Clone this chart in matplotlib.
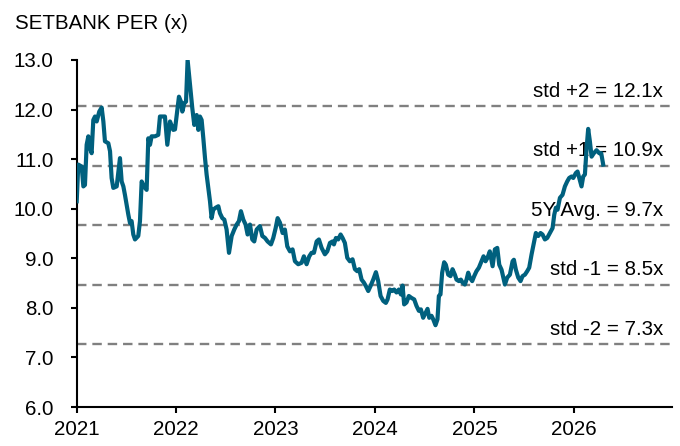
import matplotlib
matplotlib.use("Agg")
import matplotlib.pyplot as plt

plt.rcParams["font.family"] = ["Liberation Sans", "DejaVu Sans"]
plt.rcParams["font.size"] = 14.8

# SETBANK forward PER (decimal year, multiple)
years = [
    2021.002, 2021.018, 2021.052, 2021.069, 2021.085, 2021.102, 2021.119, 2021.136,
    2021.152, 2021.169, 2021.186, 2021.203, 2021.229, 2021.253, 2021.270, 2021.286,
    2021.320, 2021.337, 2021.353, 2021.370, 2021.404, 2021.437, 2021.454, 2021.471,
    2021.487, 2021.521, 2021.538, 2021.554, 2021.571, 2021.588, 2021.621, 2021.638,
    2021.655, 2021.678, 2021.705, 2021.722, 2021.739, 2021.755, 2021.789, 2021.822,
    2021.839, 2021.889, 2021.913, 2021.940, 2021.973, 2021.990,
    2022.030, 2022.050, 2022.064, 2022.084, 2022.101, 2022.117, 2022.141, 2022.164,
    2022.184, 2022.208, 2022.225, 2022.241, 2022.258, 2022.275, 2022.292, 2022.308,
    2022.325, 2022.342, 2022.358, 2022.375, 2022.399, 2022.426, 2022.442, 2022.466,
    2022.486, 2022.509, 2022.533, 2022.560, 2022.586, 2022.610, 2022.633, 2022.653,
    2022.677, 2022.700, 2022.720, 2022.744, 2022.767, 2022.787, 2022.811, 2022.844,
    2022.868, 2022.895, 2022.921, 2022.955, 2022.978, 2023.002, 2023.022,
    2023.045, 2023.072, 2023.095, 2023.119, 2023.146, 2023.172, 2023.196, 2023.229,
    2023.263, 2023.286, 2023.313, 2023.340, 2023.363, 2023.387, 2023.414, 2023.437,
    2023.464, 2023.497, 2023.521, 2023.548, 2023.574, 2023.588, 2023.608, 2023.631,
    2023.655, 2023.675, 2023.698, 2023.722, 2023.748, 2023.775, 2023.799, 2023.822,
    2023.842, 2023.866, 2023.889, 2023.909, 2023.933, 2023.956, 2023.983,
    2024.010, 2024.033, 2024.057, 2024.084, 2024.110, 2024.127, 2024.150, 2024.174,
    2024.194, 2024.217, 2024.241, 2024.261, 2024.278, 2024.294, 2024.318, 2024.341,
    2024.368, 2024.395, 2024.418, 2024.442, 2024.462, 2024.485, 2024.509, 2024.529,
    2024.546, 2024.569, 2024.586, 2024.609, 2024.629, 2024.643, 2024.659, 2024.676,
    2024.696, 2024.713, 2024.737, 2024.760, 2024.780, 2024.804, 2024.820, 2024.844,
    2024.864, 2024.881, 2024.904, 2024.921, 2024.938, 2024.954, 2024.978, 2024.998,
    2025.021, 2025.045, 2025.072, 2025.092, 2025.112, 2025.132, 2025.155, 2025.183,
    2025.206, 2025.230, 2025.250, 2025.273, 2025.307, 2025.330, 2025.357, 2025.384,
    2025.397, 2025.417, 2025.441, 2025.464, 2025.484, 2025.508, 2025.531, 2025.551,
    2025.575, 2025.598, 2025.618, 2025.642, 2025.665, 2025.685, 2025.709, 2025.732,
    2025.759, 2025.786, 2025.803, 2025.819, 2025.836, 2025.860, 2025.886, 2025.910,
    2025.933, 2025.953, 2025.977, 2025.994,
    2026.020, 2026.037, 2026.054, 2026.077, 2026.094, 2026.111, 2026.128, 2026.144,
    2026.161, 2026.178, 2026.201, 2026.228, 2026.255, 2026.275, 2026.295,
]
per = [
    10.15, 10.89, 10.85, 10.45, 10.48, 11.29, 11.46, 11.22,
    11.12, 11.79, 11.86, 11.76, 11.96, 12.04, 11.76, 11.36,
    11.32, 11.16, 10.62, 10.42, 10.45, 11.02, 10.55, 10.45,
    10.28, 9.88, 9.71, 9.75, 9.48, 9.38, 9.45, 9.75,
    10.55, 10.45, 10.38, 11.42, 11.29, 11.46, 11.46, 11.49,
    11.86, 11.86, 11.29, 11.76, 11.59, 11.60,
    12.26, 12.16, 11.96, 12.13, 12.16, 13.00, 12.50, 12.03,
    11.69, 11.89, 11.59, 11.86, 11.79, 11.42, 11.02, 10.69,
    10.42, 10.15, 9.81, 9.98, 10.02, 10.05, 9.91, 9.81,
    9.78, 9.58, 9.11, 9.45, 9.58, 9.68, 9.75, 9.95,
    9.78, 9.68, 9.48, 9.68, 9.38, 9.34, 9.58, 9.65,
    9.45, 9.41, 9.34, 9.28, 9.41, 9.61, 9.81,
    9.72, 9.51, 9.58, 9.24, 9.14, 9.18, 8.94, 8.88,
    8.91, 9.04, 8.88, 9.04, 9.11, 9.11, 9.34, 9.38,
    9.21, 9.08, 9.14, 9.31, 9.34, 9.28, 9.41, 9.38,
    9.48, 9.41, 9.31, 9.01, 8.94, 8.98, 8.78, 8.74,
    8.78, 8.57, 8.51, 8.44, 8.34, 8.44, 8.57,
    8.72, 8.54, 8.24, 8.14, 8.10, 8.17, 8.37, 8.34,
    8.37, 8.31, 8.37, 8.27, 8.45, 8.07, 8.11, 8.24,
    8.20, 8.17, 8.04, 7.94, 7.97, 7.80, 7.90, 7.98,
    7.80, 7.84, 7.77, 7.65, 7.77, 8.24, 8.27, 8.71,
    8.92, 8.87, 8.67, 8.64, 8.78, 8.67, 8.57, 8.54,
    8.57, 8.51, 8.47, 8.57, 8.71, 8.61, 8.54, 8.64,
    8.74, 8.81, 8.94, 9.04, 8.94, 9.01, 9.14, 8.84,
    9.18, 9.21, 8.87, 8.77, 8.47, 8.61, 8.67, 8.94,
    8.97, 8.77, 8.61, 8.54, 8.64, 8.67, 8.74, 8.81,
    9.08, 9.31, 9.51, 9.45, 9.51, 9.48, 9.38, 9.41,
    9.51, 9.61, 9.88, 10.02, 9.98, 10.22, 10.28, 10.45,
    10.55, 10.62, 10.65, 10.62,
    10.72, 10.75, 10.62, 10.45, 10.65, 10.69, 11.22, 11.61,
    11.36, 11.05, 11.12, 11.18, 11.12, 11.12, 10.89,
]

# mean / std bands
band_values = [12.07, 10.87, 9.67, 8.47, 7.27]
band_labels = ["std +2 = 12.1x", "std +1 = 10.9x", "5Y Avg. = 9.7x",
               "std -1 = 8.5x", "std -2 = 7.3x"]

year_ticks = [2021, 2022, 2023, 2024, 2025, 2026]
y_ticks = [6.0, 7.0, 8.0, 9.0, 10.0, 11.0, 12.0, 13.0]

fig = plt.figure(figsize=(6.8, 4.46), dpi=100)
ax = fig.add_axes([0.1125, 0.0874, 0.8755, 0.7781])

for val in band_values:
    ax.axhline(val, color="#808080", lw=1.7, ls=(0, (4.0, 2.5)), zorder=1)

ax.plot(years, per, color="#00607E", lw=3.0, solid_joinstyle="round", zorder=3)

x_right = 2026.895
for val, lab in zip(band_values, band_labels):
    ax.annotate(lab, (x_right, val), xytext=(0, 6.8), textcoords="offset points",
                ha="right", va="baseline", color="black", zorder=2)

ax.set_xlim(2021, 2026.985)
ax.set_ylim(6.0, 13.0)
ax.set_xticks(year_ticks)
ax.set_xticklabels([str(y) for y in year_ticks])
ax.set_yticks(y_ticks)
ax.set_yticklabels([f"{v:.1f}" for v in y_ticks])

for side in ("top", "right"):
    ax.spines[side].set_visible(False)
for side in ("left", "bottom"):
    ax.spines[side].set_linewidth(1.5)
ax.tick_params(axis="both", direction="out", length=4.5, width=1.5)
ax.tick_params(axis="y", pad=12)
ax.tick_params(axis="x", pad=5)

fig.text(0.022, 0.934, "SETBANK PER (x)", ha="left", va="baseline")

fig.savefig("out.png", dpi=100)
